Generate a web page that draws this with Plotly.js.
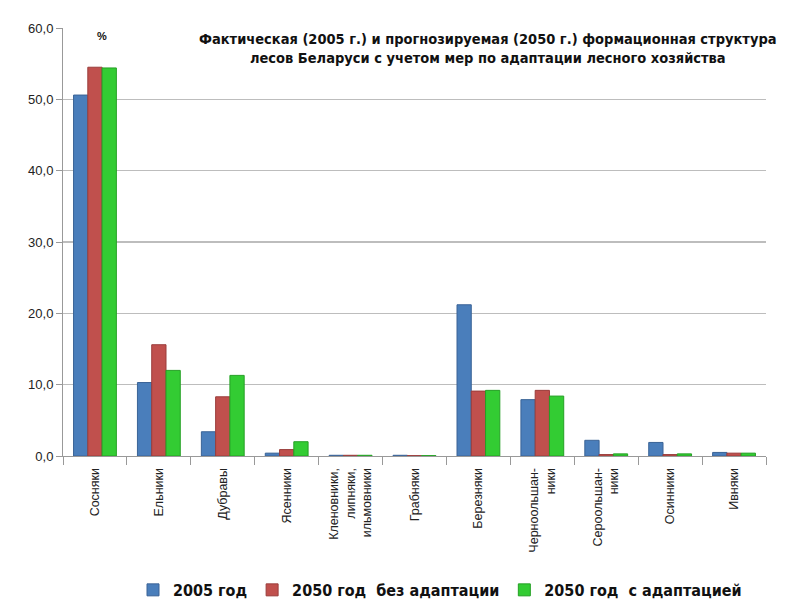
<!DOCTYPE html>
<html>
<head>
<meta charset="utf-8">
<script src="https://cdn.plot.ly/plotly-3.0.1.min.js"></script>
<style>
  html, body { margin: 0; padding: 0; background: #fff; }
  #chart { width: 800px; height: 610px; }
</style>
</head>
<body>
<div id="chart"></div>
<script>
// Forest formation structure of Belarus, % of forested area
const CATEGORIES = [
  'Сосняки', 'Ельники', 'Дубравы', 'Ясенники',
  'Кленовники,<br>липняки,<br>ильмовники', 'Грабняки', 'Березняки',
  'Черноольшан-<br>ники', 'Сероольшан-<br>ники', 'Осинники', 'Ивняки'
];
const SERIES_NAMES = ['2005 год', '2050 год  без адаптации', '2050 год  с адаптацией'];
const Y2005 = [50.6, 10.3, 3.4, 0.4, 0.1, 0.1, 21.2, 7.9, 2.2, 1.9, 0.5];
const Y2050_NO = [54.5, 15.6, 8.3, 0.9, 0.1, 0.05, 9.1, 9.2, 0.2, 0.2, 0.4];
const Y2050_ADAPT = [54.4, 12.0, 11.3, 2.0, 0.1, 0.05, 9.2, 8.4, 0.3, 0.3, 0.4];

const COLORS = ['#4a7ebb', '#c0504d', '#33cc33'];
const EDGES = ['#3a6396', '#9a3d3b', '#25a025'];

const traces = [Y2005, Y2050_NO, Y2050_ADAPT].map((vals, i) => ({
  type: 'bar',
  x: CATEGORIES,
  y: vals,
  name: '<b>' + SERIES_NAMES[i] + '</b>',
  marker: { color: COLORS[i], line: { color: EDGES[i], width: 1 } },
  hoverinfo: 'x+y'
}));

const layout = {
  width: 800,
  height: 610,
  margin: { l: 63, r: 34, t: 28, b: 154 },
  paper_bgcolor: '#fff',
  plot_bgcolor: '#fff',
  separators: ', ',
  barmode: 'group',
  bargap: 0.33,
  bargroupgap: 0,
  font: { family: 'Liberation Sans, Arial, sans-serif', size: 11, color: '#222' },
  xaxis: {
    type: 'category',
    automargin: false,
    tickangle: -90,
    tickfont: { size: 12.5, color: '#222' },
    ticks: 'outside',
    tickson: 'boundaries',
    ticklen: 8,
    ticklabelstandoff: 6,
    tickcolor: '#999',
    showline: true,
    linecolor: '#999',
    linewidth: 1,
    showgrid: false,
    fixedrange: true
  },
  yaxis: {
    automargin: false,
    range: [0, 60],
    dtick: 10,
    tickformat: '.1f',
    tickfont: { size: 13, color: '#222' },
    ticks: 'outside',
    ticklen: 6,
    tickcolor: '#999',
    showline: true,
    linecolor: '#999',
    gridcolor: '#bdbdbd',
    gridwidth: 1.5,
    zeroline: false,
    fixedrange: true
  },
  legend: {
    orientation: 'h',
    xref: 'container',
    yref: 'container',
    x: 0.55,
    xanchor: 'center',
    y: 0.005,
    yanchor: 'bottom',
    font: { family: 'Liberation Sans Narrow, DejaVu Sans Condensed, sans-serif', size: 16, color: '#111' },
    traceorder: 'normal',
    itemwidth: 30
  },
  annotations: [
    {
      xref: 'paper', yref: 'paper',
      x: 0.605, y: 1.01, xanchor: 'center', yanchor: 'top',
      text: '<b>Фактическая (2005 г.) и прогнозируемая (2050 г.) формационная структура<br>лесов Беларуси с учетом мер по адаптации лесного хозяйства</b>',
      showarrow: false,
      align: 'center',
      bgcolor: '#fff',
      borderpad: 6,
      font: { family: 'Liberation Sans Narrow, DejaVu Sans Condensed, sans-serif', size: 14.5, color: '#111' }
    },
    {
      xref: 'paper', yref: 'paper',
      x: 0.055, y: 1.0, xanchor: 'center', yanchor: 'top',
      text: '<b>%</b>',
      showarrow: false,
      font: { size: 11, color: '#111' }
    }
  ]
};

Plotly.newPlot('chart', traces, layout, { displayModeBar: false, staticPlot: true });
</script>
</body>
</html>
